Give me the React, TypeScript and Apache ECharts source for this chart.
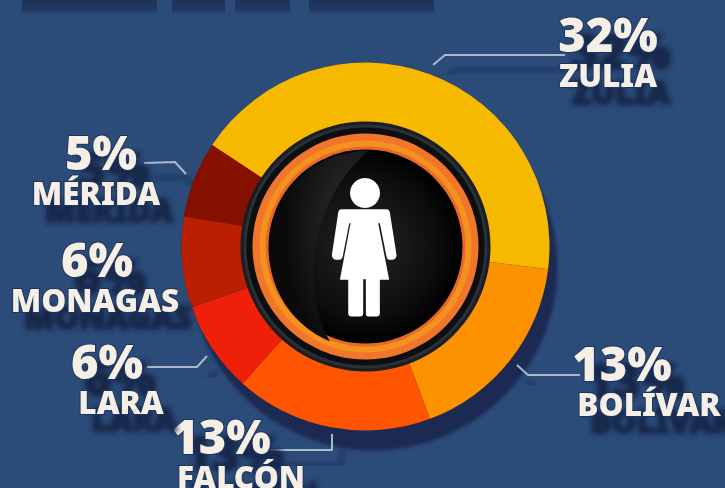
import React, { useEffect, useRef } from "react";
import * as echarts from "echarts";

const regions = ["ZULIA", "BOLÍVAR", "FALCÓN", "LARA", "MONAGAS", "MÉRIDA"];
const shares = [32, 13, 13, 6, 6, 5];
const sliceColors = ["#f6b900", "#fd9200", "#ff5400", "#ee200a", "#bb1e00", "#861000"];
const labelCentres = [[608, 51], [649, 380], [241, 453], [121, 378], [95, 276], [96, 169]];
const percentShift = [0, 27, 20, 14, -2, -5];
const labelLines = [
  [[433, 65], [445, 55], [565, 55]],
  [[517, 365], [528, 375], [580, 375]],
  [[270, 450], [332, 450], [332, 434]],
  [[147, 367], [197, 367], [207, 356]],
  [[145, 264], [173, 264], [173, 264]],
  [[144, 163], [175, 162], [186, 174]],
];
const titleShadowBars = [[22, 135], [172, 53], [235, 55], [309, 125]];

const CX = 365.5;
const CY = 246.5;
const FIGURE =
  "M335 268 H470 Q478 268 480 278 L500 405 Q500 418 488 420 L478 420 Q472 420 470 410 L450 310 L445 310 L478 480 H450 V580 Q450 590 440 590 H415 Q408 590 408 580 V478 H400 V580 Q400 590 390 590 H365 Q355 590 355 580 V480 H330 L362 310 H358 L338 412 Q335 420 328 420 H318 Q306 418 306 405 L325 278 Q327 268 335 268 Z";
const GLOSS = "M415 92 A298 298 0 0 0 300 665 Q250 580 250 450 Q260 230 415 92 Z";

echarts.graphic.registerShape("figure", echarts.graphic.extendPath(FIGURE, {}) as any);
echarts.graphic.registerShape("gloss", echarts.graphic.extendPath(GLOSS, {}) as any);

const SHADOW = "#15264a";
const textBase = {
  color: "#f5efe6",
  fontFamily: "Noto Sans",
  fontWeight: 900,
  textBorderColor: "#1f3560",
  textBorderWidth: 2,
  textShadowColor: SHADOW,
  textShadowBlur: 5,
  textShadowOffsetX: 13,
  textShadowOffsetY: 17,
  align: "center" as const,
};

const circle = (r: number, fill: any, z: number, extra: any = {}) => ({
  type: "circle",
  z,
  shape: { cx: CX, cy: CY, r },
  style: { fill, ...extra },
});

export default function App() {
  const ref = useRef<HTMLDivElement>(null);
  useEffect(() => {
    const chart = echarts.init(ref.current!, undefined, { renderer: "svg" });
    chart.setOption({
      animation: false,
      backgroundColor: "#2b4b78",
      graphic: {
        elements: [
          ...titleShadowBars.map(([x, w]) => ({
            type: "rect",
            z: 0,
            shape: { x, y: 0, width: w, height: 15 },
            style: {
              fill: {
                type: "linear", x: 0, y: 0, x2: 0, y2: 1,
                colorStops: [
                  { offset: 0, color: "#1e3359" },
                  { offset: 0.55, color: "#1f365e" },
                  { offset: 1, color: "#2b4b78" },
                ],
              },
            },
          })),
          circle(184, "#1a2b52", 0, { shadowBlur: 3, shadowColor: "#1a2b52", shadowOffsetX: 8, shadowOffsetY: 20 }),
          circle(125, "#1a1d22", 10),
          circle(122, "#2a3038", 11),
          circle(119, "#0d0e10", 11),
          circle(113, "#f1752a", 12),
          circle(106, "#f5911e", 13),
          circle(100, "#e8682a", 13),
          circle(97, {
            type: "radial", x: 0.5, y: 0.5, r: 0.5,
            colorStops: [
              { offset: 0, color: "#262626" },
              { offset: 0.75, color: "#0c0c0c" },
              { offset: 1, color: "#000000" },
            ],
          }, 14),
          {
            type: "gloss", z: 15, x: 230, y: 120, scaleX: 1 / 3, scaleY: 1 / 3,
            style: {
              fill: {
                type: "radial", x: 0.85, y: 0.4, r: 0.7,
                colorStops: [
                  { offset: 0, color: "#303034" },
                  { offset: 1, color: "#0a0a0b" },
                ],
              },
            },
          },
          {
            type: "circle", z: 16,
            shape: { cx: 365, cy: 193, r: 15 },
            style: { fill: "#ffffff" },
          },
          {
            type: "figure", z: 16, x: 230, y: 120, scaleX: 1 / 3, scaleY: 1 / 3,
            style: { fill: "#ffffff" },
          },
        ],
      },
      series: [
        {
          type: "pie",
          center: [CX, CY],
          radius: [118, 184],
          startAngle: 146.5,
          clockwise: true,
          avoidLabelOverlap: false,
          silent: true,
          data: regions.map((name, i) => ({
            name,
            value: shares[i],
            itemStyle: { color: sliceColors[i] },
            label: {
              rich: {
                p: {
                  ...textBase,
                  fontSize: 47,
                  lineHeight: 46,
                  padding: percentShift[i] > 0 ? [0, percentShift[i] * 2, 0, 0] : [0, 0, 0, -percentShift[i] * 2],
                },
                n: { ...textBase, fontSize: 31.5, lineHeight: 34 },
              },
            },
          })),
          label: {
            show: true,
            position: "outside",
            formatter: (p: any) => `{p|${p.value}%}\n{n|${p.name}}`,
          },
          labelLine: {
            show: true,
            lineStyle: {
              color: "#a9b8cf",
              width: 2,
              shadowColor: SHADOW,
              shadowBlur: 4,
              shadowOffsetX: 10,
              shadowOffsetY: 15,
            },
          },
          labelLayout: (p: any) => ({
            x: labelCentres[p.dataIndex][0],
            y: labelCentres[p.dataIndex][1],
            align: "center",
            verticalAlign: "middle",
            labelLinePoints: labelLines[p.dataIndex],
          }),
        },
      ],
    });
    return () => chart.dispose();
  }, []);
  return (
    <div
      ref={ref}
      style={{ position: "absolute", left: 0, top: 0, width: 725, height: 488, overflow: "hidden" }}
    />
  );
}
